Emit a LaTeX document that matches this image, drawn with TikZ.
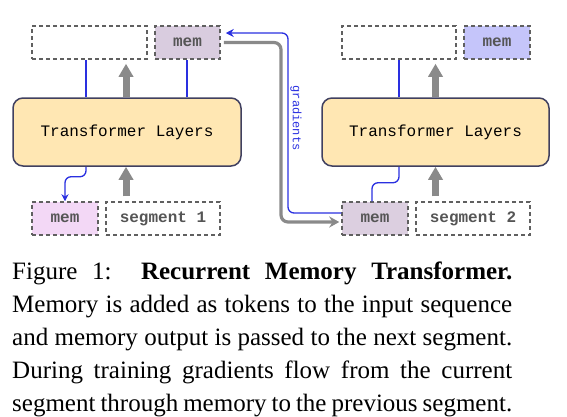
\documentclass[tikz,border=0pt]{standalone}
\usepackage{fontspec}
\usetikzlibrary{arrows.meta}
\newfontfamily\capfont{Liberation Serif}
\newfontfamily\monofont{Liberation Mono}
\definecolor{tlfill}{HTML}{FFE7B3}
\definecolor{tldraw}{HTML}{404060}
\definecolor{dashgray}{HTML}{606060}
\definecolor{memtop}{HTML}{D9CCDF}
\definecolor{mempink}{HTML}{F3D8F6}
\definecolor{memblue}{HTML}{C5C5FA}
\definecolor{memtwo}{HTML}{DCCFE0}
\definecolor{bluegrad}{HTML}{2A30E0}
\definecolor{arrowgray}{HTML}{8A8A8A}
\definecolor{labelgray}{HTML}{555555}
\tikzset{
  tlbox/.style={draw=tldraw, line width=1.5pt, fill=tlfill, rounded corners=10pt,
    minimum width=228pt, minimum height=68pt, inner sep=0pt,
    font=\monofont\fontsize{16}{18}\selectfont},
  dbox/.style={draw=dashgray, line width=1.5pt, dash pattern=on 4pt off 3pt, fill=white,
    minimum height=33pt, inner sep=0pt, text=labelgray,
    font=\monofont\bfseries\fontsize{16}{18}\selectfont},
  blueline/.style={draw=bluegrad, line width=1.3pt, rounded corners=6pt},
  upflow/.style={draw=arrowgray, line width=7pt, -{Triangle[width=14pt,length=13pt]}},
  grayline/.style={draw=arrowgray, line width=3.2pt, rounded corners=7pt, -{Stealth[length=10pt,width=11pt]}}
}
\begin{document}
\begin{tikzpicture}[x=1pt,y=-1pt]
\useasboundingbox (0,0) rectangle (567,416);
% segment 1
\node[dbox, minimum width=115pt] (topA) at (89.5,42.5) {};
\node[dbox, minimum width=65pt, fill=memtop] (memTA) at (187.5,42.5) {mem};
\node[tlbox] (tlA) at (127,132) {Transformer Layers};
\node[dbox, minimum width=66pt, fill=mempink] (memBA) at (65,218.5) {mem};
\node[dbox, minimum width=114pt] (segA) at (163,218.5) {segment 1};
% segment 2
\node[dbox, minimum width=114pt] (topB) at (399,42.5) {};
\node[dbox, minimum width=66pt, fill=memblue] (memTB) at (497,42.5) {mem};
\node[tlbox, minimum width=227pt] (tlB) at (435.5,132) {Transformer Layers};
\node[dbox, minimum width=66pt, fill=memtwo] (memBB) at (375,218.5) {mem};
\node[dbox, minimum width=114pt] (segB) at (473,218.5) {segment 2};
% vertical connectors, segment 1
\draw[blueline] ([xshift=-41pt]tlA.north) -- ([xshift=-3.5pt]topA.south);
\draw[blueline] ([xshift=-0.5pt]tlA.north -| memTA.south) -- ([xshift=-0.5pt]memTA.south);
\draw[upflow] ([xshift=-1pt]tlA.north) -- ([xshift=-1pt,yshift=-4pt]tlA.north |- topA.south);
\draw[upflow] ([xshift=-1pt,yshift=5pt]tlA.south |- segA.north) -- ([xshift=-1pt]tlA.south);
\draw[blueline, -{Stealth[length=7pt,width=7pt]}] ([xshift=-41pt]tlA.south) |- ([yshift=-10pt]tlA.south -| memBA.north) -- (memBA.north);
% vertical connectors, segment 2
\draw[blueline] ([xshift=-36.5pt]tlB.north) -- (topB.south);
\draw[upflow] (tlB.north) -- ([yshift=-4pt]tlB.north |- topB.south);
\draw[upflow] ([yshift=5pt]tlB.south |- segB.north) -- (tlB.south);
\draw[blueline] ([xshift=-36.5pt]tlB.south) |- ([xshift=-3pt,yshift=-16pt]tlB.south -| memBB.north) -- ([xshift=-3pt]memBB.north);
% recurrence
\draw[blueline, -{Stealth[length=8pt,width=8pt]}] ([yshift=5.5pt]memBB.west) -| (288,33) -- ([xshift=5pt,yshift=9.5pt]memTA.east);
\draw[grayline] ([xshift=3pt]memTA.east) -| (281,222) -- ([xshift=-2pt,yshift=-3.5pt]memBB.west);
\node[rotate=-90, text=bluegrad, font=\monofont\fontsize{12}{14}\selectfont, inner sep=0pt] (grad) at (296,118) {gradients};
% caption
\node[anchor=north west, inner sep=0pt, text width=500pt, align=justify,
  font=\capfont\fontsize{25}{33}\selectfont] (cap) at (12,262)
  {\parfillskip=0pt\hyphenpenalty=10000\spaceskip=0.25em plus 0.2em minus 0.13em\relax
   Figure 1:\ \ \textbf{Recurrent Memory Transformer.}\linebreak
   Memory is added as tokens to the input sequence\linebreak
   and memory output is passed to the next segment.\linebreak
   During training gradients flow from the current\linebreak
   segment through memory to the previous segment.};
\end{tikzpicture}
\end{document}
